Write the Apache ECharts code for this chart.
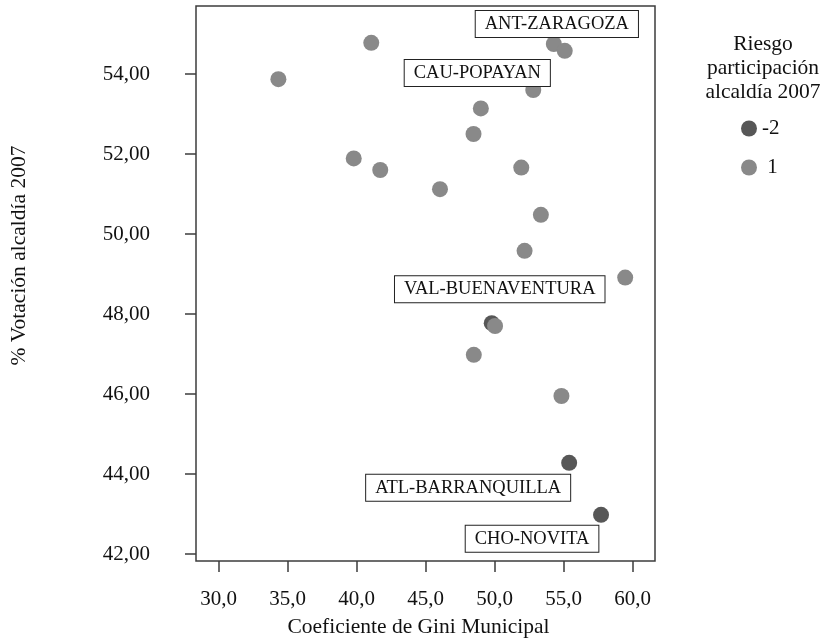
<!DOCTYPE html>
<html>
<head>
<meta charset="utf-8">
<script src="https://cdn.jsdelivr.net/npm/echarts@6/dist/echarts.min.js"></script>
<style>
  html, body { margin: 0; padding: 0; background: #fff; }
  #chart { width: 824px; height: 643px; }
</style>
</head>
<body>
<div id="chart"></div>
<script>
// riesgo participacion = -2
var giniNeg2 = [49.79, 55.40, 57.71]
var votoNeg2 = [47.77, 44.28, 42.98]
var nombreNeg2 = ['VAL-BUENAVENTURA', 'ATL-BARRANQUILLA', 'CHO-NOVITA']

// riesgo participacion = 1
var gini1 = [41.06, 34.33, 54.29, 55.08, 52.80, 49.00, 48.47, 39.79, 41.71,
  51.93, 46.04, 53.35, 52.17, 59.46, 50.03, 48.49, 54.84]
var voto1 = [54.78, 53.87, 54.75, 54.58, 53.60, 53.14, 52.50, 51.89, 51.60,
  51.66, 51.12, 50.48, 49.58, 48.91, 47.70, 46.98, 45.95]
var nombre1 = ['', '', 'ANT-ZARAGOZA', '', 'CAU-POPAYAN', '', '', '', '',
  '', '', '', '', '', '', '', '']

var xTicks = [30, 35, 40, 45, 50, 55, 60]
var yTicks = [42, 44, 46, 48, 50, 52, 54]

// where each label box sits relative to its point (px)
var labelOffsets = {
  'ANT-ZARAGOZA': [3, -20],
  'CAU-POPAYAN': [-56, -17],
  'VAL-BUENAVENTURA': [8, -34],
  'ATL-BARRANQUILLA': [-101, 25],
  'CHO-NOVITA': [-69, 24]
}

var font = 'Liberation Serif'

function buildData(xs, ys, names){
  return xs.map(function(x, i){
    var item = { value: [x, ys[i]], name: names[i] }
    if (names[i]) {
      item.label = {
        show: true,
        position: 'inside',
        offset: labelOffsets[names[i]],
        formatter: '{b}',
        fontFamily: font,
        fontSize: 18.5,
        color: '#111',
        backgroundColor: '#fff',
        borderColor: '#222',
        borderWidth: 1,
        padding: [4, 9, 3, 9]
      }
    }
    return item
  })
}

var chart = echarts.init(document.getElementById('chart'), null, { renderer: 'canvas' })

var option = {
  animation: false,
  textStyle: { fontFamily: font },
  title: {
    text: 'Riesgo\nparticipación\nalcaldía 2007',
    left: 763,
    top: 32,
    padding: 0,
    textAlign: 'center',
    textStyle: {
      fontFamily: font,
      fontSize: 21.5,
      fontWeight: 'normal',
      color: '#111',
      lineHeight: 24
    }
  },
  legend: {
    orient: 'vertical',
    left: 741,
    top: 118,
    padding: 0,
    itemWidth: 16,
    itemHeight: 16,
    itemGap: 18,
    icon: 'circle',
    data: ['-2', '1'],
    formatter: function(name){
      return name === '1' ? ' 1' : name
    },
    textStyle: { fontFamily: font, fontSize: 21, color: '#111' }
  },
  grid: {
    left: 194,
    right: 169,
    top: 6,
    bottom: 82,
    show: true,
    borderColor: '#3c3c3c',
    borderWidth: 1.5,
    backgroundColor: '#fff'
  },
  xAxis: {
    type: 'value',
    min: 28.36,
    max: 61.62,
    name: 'Coeficiente de Gini Municipal',
    nameLocation: 'middle',
    nameGap: 55,
    nameTextStyle: { fontFamily: font, fontSize: 21.5, color: '#111', padding: [0, 14, 0, 0] },
    splitLine: { show: false },
    axisLine: { show: false },
    axisTick: {
      show: true,
      length: 11,
      customValues: xTicks,
      lineStyle: { color: '#3c3c3c', width: 1.5 }
    },
    axisLabel: {
      customValues: xTicks,
      margin: 28,
      fontFamily: font,
      fontSize: 21,
      color: '#111',
      formatter: function(v){ return v.toFixed(1).replace('.', ',') }
    }
  },
  yAxis: {
    type: 'value',
    min: 41.825,
    max: 55.7,
    name: '% Votación alcaldía 2007',
    nameLocation: 'middle',
    nameGap: 166,
    nameTextStyle: { fontFamily: font, fontSize: 21.5, color: '#111', padding: [0, 0, 0, 56] },
    splitLine: { show: false },
    axisLine: { show: false },
    axisTick: {
      show: true,
      length: 11,
      customValues: yTicks,
      lineStyle: { color: '#3c3c3c', width: 1.5 }
    },
    axisLabel: {
      customValues: yTicks,
      margin: 46,
      fontFamily: font,
      fontSize: 21,
      color: '#111',
      formatter: function(v){ return v.toFixed(2).replace('.', ',') }
    }
  },
  series: [
    {
      name: '-2',
      type: 'scatter',
      symbolSize: 16,
      itemStyle: { color: '#575757', opacity: 1 },
      data: buildData(giniNeg2, votoNeg2, nombreNeg2)
    },
    {
      name: '1',
      type: 'scatter',
      symbolSize: 16,
      itemStyle: { color: '#898989', opacity: 1 },
      data: buildData(gini1, voto1, nombre1)
    }
  ]
}

chart.setOption(option)
</script>
</body>
</html>
